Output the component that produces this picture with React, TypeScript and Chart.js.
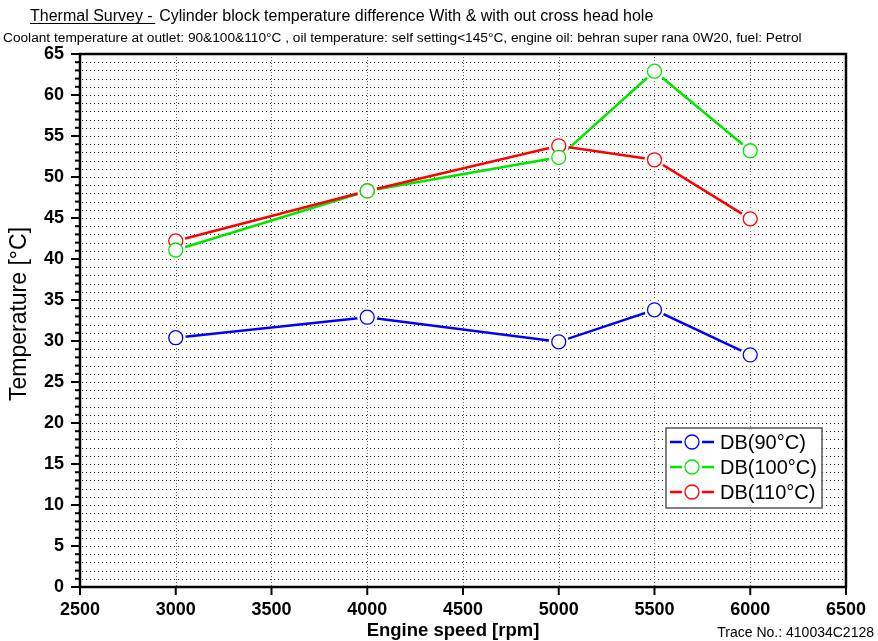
import React, { useEffect, useRef } from "react";
import { Chart, registerables } from "chart.js";
Chart.register(...registerables);

const speeds = [3000, 4000, 5000, 5500, 6000];
const db90 = [30.4, 32.9, 29.9, 33.8, 28.3];
const db100 = [41.1, 48.3, 52.4, 62.9, 53.2];
const db110 = [42.2, 48.3, 53.8, 52.1, 44.9];
const seriesLabels = ["DB(90°C)", "DB(100°C)", "DB(110°C)"];
const seriesColors = ["#0000ff", "#00e600", "#ff0000"];
const seriesValues = [db90, db100, db110];
const xTickValues = [2500, 3000, 3500, 4000, 4500, 5000, 5500, 6000, 6500];
const titleLead = "Thermal Survey - ";
const titleMain = "Cylinder block temperature difference With & with out cross head hole";
const subtitle =
  "Coolant temperature at outlet: 90&100&110°C , oil temperature: self setting<145°C, engine oil: behran super rana 0W20, fuel: Petrol";
const xTitle = "Engine speed [rpm]";
const yTitle = "Temperature [°C]";
const traceText = "Trace No.: 410034C2128";

const FONT = "'Liberation Sans', Arial, sans-serif";

const decor = {
  id: "decor",
  beforeDatasetsDraw(chart: any) {
    const { ctx, chartArea: a, scales } = chart;
    const x = scales.x;
    const y = scales.y;
    ctx.save();
    ctx.lineWidth = 1;
    ctx.strokeStyle = "#222";
    ctx.setLineDash([1, 3]);
    for (let v = 1; v < 65; v++) {
      const py = Math.round(y.getPixelForValue(v)) + 0.5;
      ctx.beginPath();
      ctx.moveTo(a.left + 2, py);
      ctx.lineTo(a.right, py);
      ctx.stroke();
    }
    ctx.strokeStyle = "#666";
    ctx.setLineDash([1, 2]);
    for (const v of xTickValues) {
      if (v === 2500 || v === 6500) continue;
      const px = Math.round(x.getPixelForValue(v)) + 0.5;
      ctx.beginPath();
      ctx.moveTo(px, a.top);
      ctx.lineTo(px, a.bottom);
      ctx.stroke();
    }
    ctx.restore();
  },
  afterDatasetsDraw(chart: any) {
    const { ctx, chartArea: a, scales } = chart;
    const x = scales.x;
    const y = scales.y;
    ctx.save();
    const order = [2, 1, 0];
    for (const di of order) {
      const meta = chart.getDatasetMeta(di);
      const color = chart.data.datasets[di].borderColor;
      for (const pt of meta.data) {
        ctx.beginPath();
        ctx.arc(pt.x, pt.y, 7, 0, Math.PI * 2);
        ctx.fillStyle = "#fff";
        ctx.fill();
        ctx.lineWidth = 1.3;
        ctx.strokeStyle = color;
        ctx.stroke();
      }
    }
    ctx.strokeStyle = "#000";
    ctx.lineWidth = 2.5;
    ctx.strokeRect(a.left, a.top, a.right - a.left, a.bottom - a.top);
    ctx.lineWidth = 2;
    for (let v = 0; v <= 65; v++) {
      const py = y.getPixelForValue(v);
      const len = v % 5 === 0 ? 9 : 5;
      ctx.beginPath();
      ctx.moveTo(a.left - len, py);
      ctx.lineTo(a.left, py);
      ctx.stroke();
    }
    for (const v of xTickValues) {
      const px = x.getPixelForValue(v);
      ctx.beginPath();
      ctx.moveTo(px, a.bottom);
      ctx.lineTo(px, a.bottom + 8);
      ctx.stroke();
    }
    const lx = 666, ly = 428, lw = 156, lh = 80;
    ctx.fillStyle = "#fff";
    ctx.fillRect(lx, ly, lw, lh);
    ctx.strokeStyle = "#555";
    ctx.lineWidth = 1.5;
    ctx.strokeRect(lx, ly, lw, lh);
    ctx.font = `20px ${FONT}`;
    ctx.textBaseline = "middle";
    ctx.textAlign = "left";
    for (let i = 0; i < seriesLabels.length; i++) {
      const cy = 442 + i * 25;
      ctx.strokeStyle = seriesColors[i];
      ctx.lineWidth = 2.5;
      ctx.beginPath();
      ctx.moveTo(670, cy);
      ctx.lineTo(682, cy);
      ctx.moveTo(702, cy);
      ctx.lineTo(714, cy);
      ctx.stroke();
      ctx.beginPath();
      ctx.arc(692, cy, 7, 0, Math.PI * 2);
      ctx.fillStyle = "#fff";
      ctx.fill();
      ctx.lineWidth = 1.3;
      ctx.stroke();
      ctx.fillStyle = "#000";
      ctx.fillText(seriesLabels[i], 720, cy + 1);
    }
    ctx.restore();
  },
  afterDraw(chart: any) {
    const { ctx } = chart;
    ctx.save();
    ctx.fillStyle = "#000";
    ctx.textBaseline = "alphabetic";
    ctx.textAlign = "left";
    ctx.font = `16px ${FONT}`;
    ctx.fillText(titleLead, 30, 21);
    const lw = ctx.measureText(titleLead).width;
    ctx.fillRect(30, 23, lw - 2, 1);
    ctx.fillText(titleMain, 30 + lw + 2, 21);
    ctx.font = `13.7px ${FONT}`;
    ctx.fillText(subtitle, 3, 42);
    ctx.font = `bold 18.5px ${FONT}`;
    ctx.textAlign = "center";
    ctx.textBaseline = "middle";
    ctx.fillText(xTitle, 453, 631);
    ctx.font = `14px ${FONT}`;
    ctx.textAlign = "right";
    ctx.fillText(traceText, 874, 633);
    ctx.save();
    ctx.translate(20, 314);
    ctx.rotate(-Math.PI / 2);
    ctx.font = `23px ${FONT}`;
    ctx.textAlign = "center";
    ctx.fillText(yTitle, 0, 0);
    ctx.restore();
    ctx.restore();
  },
};

export default function App() {
  const ref = useRef<HTMLCanvasElement>(null);
  useEffect(() => {
    document.body.style.margin = "0";
    const datasets = seriesValues.map((vals, i) => ({
      label: seriesLabels[i],
      data: speeds.map((s, j) => ({ x: s, y: vals[j] })),
      borderColor: seriesColors[i],
      backgroundColor: "#fff",
      borderWidth: 2.5,
      pointRadius: 10,
      pointHoverRadius: 10,
      pointBorderWidth: 0,
      pointBackgroundColor: "#fff",
      pointBorderColor: "#fff",
      showLine: true,
      tension: 0,
      order: 2 - i,
    }));
    const chart = new Chart(ref.current!, {
      type: "scatter",
      data: { datasets },
      plugins: [decor],
      options: {
        responsive: false,
        animation: false,
        events: [],
        layout: { padding: { left: 0, right: 32, top: 54, bottom: 0 } },
        plugins: { legend: { display: false }, tooltip: { enabled: false }, title: { display: false } },
        scales: {
          x: {
            type: "linear",
            min: 2500,
            max: 6500,
            ticks: {
              stepSize: 500,
              padding: 12,
              maxRotation: 0,
              color: "#000",
              font: { family: FONT, size: 18, weight: "bold" },
              callback: (v: any) => String(v),
            },
            grid: { display: false, drawTicks: false },
            border: { display: false },
            afterFit(s: any) {
              s.height = 54;
            },
          },
          y: {
            min: 0,
            max: 65,
            ticks: {
              stepSize: 5,
              padding: 16,
              color: "#000",
              font: { family: FONT, size: 18, weight: "bold" },
              callback: (v: any) => String(v),
            },
            grid: { display: false, drawTicks: false },
            border: { display: false },
            afterFit(s: any) {
              s.width = 80;
            },
          },
        },
      } as any,
    });
    return () => chart.destroy();
  }, []);
  return <canvas ref={ref} width={878} height={641} style={{ display: "block" }} />;
}
